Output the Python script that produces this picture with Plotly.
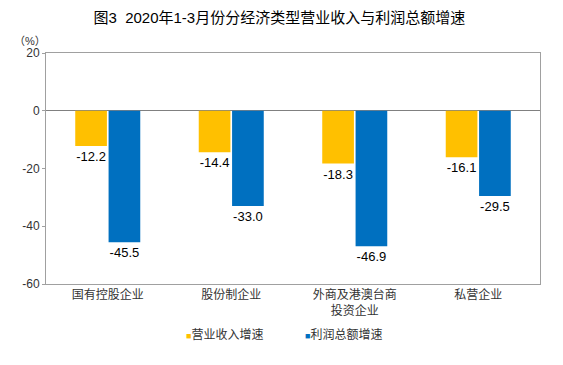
import plotly.graph_objects as go

categories = ["国有控股企业", "股份制企业", "外商及港澳台商<br>投资企业", "私营企业"]
revenue_growth = [-12.2, -14.4, -18.3, -16.1]
profit_growth = [-45.5, -33.0, -46.9, -29.5]
series_names = ["营业收入增速", "利润总额增速"]
series_colors = ["#FFC000", "#0070C0"]
y_ticks = [20, 0, -20, -40, -60]

CJK = "Liberation Sans, Noto Sans CJK SC"

fig = go.Figure()
for name, vals, col in zip(series_names, [revenue_growth, profit_growth], series_colors):
    fig.add_trace(go.Bar(
        x=categories, y=vals, name=name,
        marker=dict(color=col, line=dict(width=0)),
        text=[f"{v:.1f}" for v in vals], textposition="outside",
        textfont=dict(size=13, color="#000000", family=CJK), cliponaxis=False,
        showlegend=False,
    ))

# legend drawn as annotations (small square + label)
legend_x = [0.279, 0.520]
annotations = [dict(text="（%）", x=0, xref="paper", xanchor="right", xshift=2,
                    y=1.05, yref="paper", yanchor="middle", showarrow=False,
                    font=dict(size=11, color="#333333", family=CJK))]
for name, col, lx in zip(series_names, series_colors, legend_x):
    annotations.append(dict(
        text=f"<span style='color:{col};font-size:9px'>■</span>{name}",
        x=lx, xref="paper", xanchor="left", y=-0.221, yref="paper", yanchor="middle",
        showarrow=False, font=dict(size=12, color="#333333", family=CJK)))

fig.update_layout(
    width=563, height=365,
    margin=dict(l=38, r=31, t=45, b=89),
    paper_bgcolor="white", plot_bgcolor="white",
    barmode="group", bargap=0.46, bargroupgap=0.05,
    font=dict(family=CJK, size=11, color="#333333"),
    title=dict(text="图3  2020年1-3月份分经济类型营业收入与利润总额增速",
               x=0.482, xanchor="center", y=0.973, yanchor="middle",
               font=dict(size=15, color="#000000", family=CJK)),
    showlegend=False,
    xaxis=dict(showgrid=False, showline=True, linecolor="#A0A0A0", mirror=True,
               ticks="", automargin=False,
               tickfont=dict(size=12, color="#333333", family=CJK)),
    yaxis=dict(range=[-60, 20], tickvals=y_ticks, ticktext=[str(t) for t in y_ticks],
               showgrid=False, zeroline=True, zerolinecolor="#808080", zerolinewidth=1,
               showline=True, linecolor="#A0A0A0", mirror=True, automargin=False,
               ticks="outside", ticklen=3, tickcolor="#A0A0A0",
               tickfont=dict(size=12, color="#333333", family=CJK)),
    annotations=annotations,
)

fig.write_html("out.html")
